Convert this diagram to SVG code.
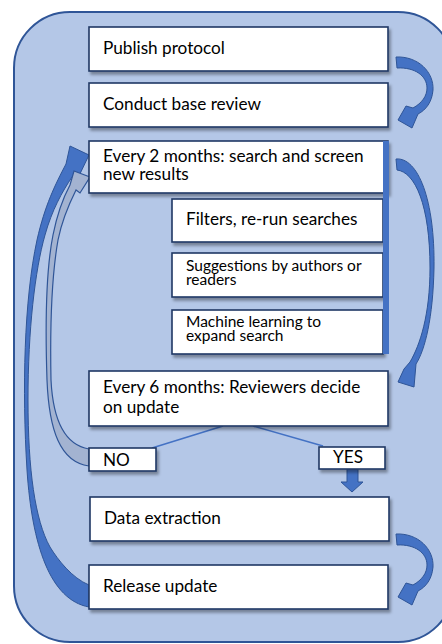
<svg xmlns="http://www.w3.org/2000/svg" width="442" height="644" viewBox="0 0 442 644">
<defs>
<filter id="sh" x="-10%" y="-20%" width="130%" height="160%">
<feDropShadow dx="2" dy="3" stdDeviation="1.8" flood-color="#000" flood-opacity="0.35"/>
</filter>
</defs>
<style>
.box{fill:#fff;stroke:#1f3864;stroke-width:1.6;filter:url(#sh)}
.t{font-family:Lato,"Open Sans",sans-serif;font-size:17.2px;fill:#000}
.s{font-family:Lato,"Open Sans",sans-serif;font-size:15.5px;fill:#000}
.arr{fill:#4472c4;stroke:#2f5597;stroke-width:1}
.ln{stroke:#4472c4;stroke-width:1.6;fill:none}
</style>
<rect id="container" x="14" y="12" width="440" height="630" rx="56" fill="#b4c7e7" stroke="#2f5597" stroke-width="2"/>
<g id="connectors">
<path class="arr" d="M396,57 C418,56 434,72 433,90 C432,102 426,110 418,114 L412,128 L398,120 L406,106 L413,108 C422,103 427,96 427,88 C427,76 415,67 397,68 Z"/>
<path class="arr" d="M396,159 C418,157 435,200 434,268 C433,318 425,350 416,364 L414,387 L398,382 L404,369 L410,362 C420,345 430,315 430,268 C430,205 415,172 397,170 Z"/>
<path class="arr" transform="translate(0,477)" d="M396,57 C418,56 434,72 433,90 C432,102 426,110 418,114 L412,128 L398,120 L406,106 L413,108 C422,103 427,96 427,88 C427,76 415,67 397,68 Z"/>
<path class="arr" d="M89,607 C50,600 32,545 27,470 C22,390 24,300 37,240 C45,205 55,185 66,164 L70,146 L89,155 L77,180 L72,177 C62,192 52,210 45,235 C35,270 28,330 28,400 C28,470 35,520 50,547 C58,560 72,578 89,585 Z"/>
<path d="M89,466 C60,462 49,430 47,380 C45,320 46,270 53,235 C57,215 62,200 70,185 L74,171 L90,177 L80,193 L76,190 C66,210 61,225 58,240 C51,280 50,330 51,380 C53,420 65,445 89,449 Z" fill="#a3b3d1" stroke="#2f5597" stroke-width="1.2"/>
<line class="ln" x1="223" y1="426" x2="152" y2="448"/>
<line class="ln" x1="253" y1="426" x2="323" y2="446"/>
<path class="arr" d="M347,469 L358,469 L358,482 L363,482 L352,492 L341,482 L347,482 Z" stroke="none"/>
</g>
<g id="n1"><rect class="box" x="89" y="27" width="299" height="44"/><text class="t" x="103" y="54">Publish protocol</text></g>
<g id="n2"><rect class="box" x="89" y="83" width="299" height="44"/><text class="t" x="103" y="110">Conduct base review</text></g>
<g id="n3"><rect class="box" x="89" y="141" width="299" height="52"/><text class="t" x="103" y="162">Every 2 months: search and screen</text><text class="t" x="103" y="180">new results</text></g>
<g id="n4"><rect class="box" x="172" y="199" width="211" height="43"/><text class="t" x="186" y="225">Filters, re-run searches</text></g>
<g id="n5"><rect class="box" x="172" y="253" width="211" height="44"/><text class="s" x="186" y="271">Suggestions by authors or</text><text class="s" x="186" y="285">readers</text></g>
<g id="n6"><rect class="box" x="172" y="310" width="211" height="44"/><text class="s" x="186" y="327">Machine learning to</text><text class="s" x="186" y="341">expand search</text></g>
<rect id="bar" x="383" y="141" width="6" height="213" fill="#4472c4"/>
<g id="n7"><rect class="box" x="89" y="371" width="299" height="55"/><text class="t" x="103" y="393">Every 6 months: Reviewers decide</text><text class="t" x="103" y="413">on update</text></g>
<g id="no"><rect class="box" x="89" y="448" width="67" height="23"/><text class="t" x="103" y="466">NO</text></g>
<g id="yes"><rect class="box" x="319" y="447" width="66" height="22"/><text class="t" x="333" y="463">YES</text></g>
<g id="n8"><rect class="box" x="90" y="497" width="299" height="44"/><text class="t" x="104" y="524">Data extraction</text></g>
<g id="n9"><rect class="box" x="89" y="565" width="299" height="44"/><text class="t" x="103" y="592">Release update</text></g>
</svg>
